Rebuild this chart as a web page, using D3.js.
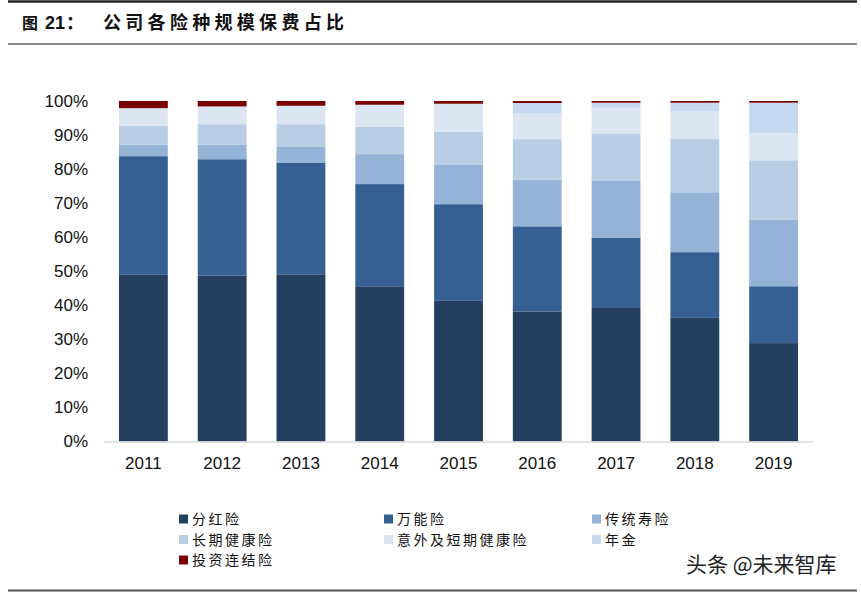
<!DOCTYPE html>
<html>
<head>
<meta charset="utf-8">
<script src="https://cdn.jsdelivr.net/npm/d3@7"></script>
<style>
  body { margin: 0; background: #fff; }
  svg { display: block; }
</style>
</head>
<body>
<svg width="861" height="592"></svg>
<script>
// years on the x axis
var years = ["2011", "2012", "2013", "2014", "2015", "2016", "2017", "2018", "2019"];

// share of premium per product line, in %
var dividend   = [49.1, 48.7, 49.1, 45.6, 41.3, 38.2, 39.2, 36.3, 28.9];
var universal  = [34.7, 34.2, 32.7, 30.0, 28.4, 25.0, 20.7, 19.3, 16.7];
var tradLife   = [3.3, 4.2, 4.7, 8.8, 11.5, 13.7, 16.6, 17.6, 19.6];
var longHealth = [5.7, 6.1, 6.7, 8.0, 9.7, 11.9, 14.0, 15.8, 17.4];
var accident   = [5.1, 5.2, 5.4, 6.5, 8.3, 7.5, 7.5, 7.9, 7.9];
var annuity    = [0, 0, 0, 0, 0, 3.1, 1.5, 2.6, 9.0];
var investLink = [2.1, 1.6, 1.4, 1.1, 0.8, 0.6, 0.5, 0.5, 0.5];

var seriesNames = ["分红险", "万能险", "传统寿险", "长期健康险", "意外及短期健康险", "年金", "投资连结险"];
var seriesValues = [dividend, universal, tradLife, longHealth, accident, annuity, investLink];
var colors = ["#253f60", "#366092", "#95b3d7", "#b9cde5", "#dce6f2", "#c6d9f1", "#7a0000"];

var yTicks = [0, 10, 20, 30, 40, 50, 60, 70, 80, 90, 100];

var svg = d3.select("svg");
var font = "'Liberation Sans', Arial, sans-serif";
var cjk = "'Noto Sans CJK SC', sans-serif";

// header and footer rules
svg.append("line").attr("x1", 8).attr("x2", 857).attr("y1", 1.5).attr("y2", 1.5)
    .attr("stroke", "#222").attr("stroke-width", 2.5);
svg.append("line").attr("x1", 8).attr("x2", 857).attr("y1", 44).attr("y2", 44)
    .attr("stroke", "#666").attr("stroke-width", 1.5);
svg.append("line").attr("x1", 8).attr("x2", 857).attr("y1", 590.5).attr("y2", 590.5)
    .attr("stroke", "#555").attr("stroke-width", 2);

// title
var title = svg.append("g").attr("font-family", cjk).attr("font-weight", "bold")
    .attr("font-size", 18).attr("fill", "#111");
title.append("text").attr("x", 22).attr("y", 29).attr("font-size", 16).text("图");
title.append("text").attr("x", 45).attr("y", 29).attr("font-family", font).text("21");
title.append("text").attr("x", 66).attr("y", 29).text("：");
title.append("text").attr("x", 103).attr("y", 29).attr("letter-spacing", 4.3)
    .text("公司各险种规模保费占比");

// stack the data
var rows = years.map(function (y, i) {
    var r = { year: y };
    seriesNames.forEach(function (n, j) { r[n] = seriesValues[j][i]; });
    return r;
});
var stacked = d3.stack().keys(seriesNames)(rows);

var x = d3.scaleBand().domain(years).range([104, 813]).paddingInner(0.38).paddingOuter(0.19);
var y = d3.scaleLinear().domain([0, 100]).range([441.5, 101]);

var layers = svg.append("g").selectAll("g")
    .data(stacked)
    .join("g")
    .attr("fill", function (d, i) { return colors[i]; });

layers.selectAll("rect")
    .data(function (d) { return d; })
    .join("rect")
    .attr("x", function (d) { return x(d.data.year); })
    .attr("width", x.bandwidth())
    .attr("y", function (d) { return y(d[1]); })
    .attr("height", function (d) { return Math.max(0, y(d[0]) - y(d[1])); });

// y axis labels
svg.append("g").selectAll("text")
    .data(yTicks)
    .join("text")
    .attr("x", 88)
    .attr("y", function (d) { return y(d); })
    .attr("dy", "0.35em")
    .attr("text-anchor", "end")
    .attr("font-family", font)
    .attr("font-size", 17)
    .attr("fill", "#111")
    .text(function (d) { return d + "%"; });

// x axis line + labels
svg.append("line").attr("x1", 104).attr("x2", 813).attr("y1", y(0) + 0.5).attr("y2", y(0) + 0.5)
    .attr("stroke", "#d9d9d9").attr("stroke-width", 1.5);

svg.append("g").selectAll("text")
    .data(years)
    .join("text")
    .attr("x", function (d) { return x(d) + x.bandwidth() / 2; })
    .attr("y", 469)
    .attr("text-anchor", "middle")
    .attr("font-family", font)
    .attr("font-size", 17)
    .attr("fill", "#111")
    .text(function (d) { return d; });

// legend, three columns
var colX = [179, 384, 592];
var legend = svg.append("g").selectAll("g")
    .data(seriesNames)
    .join("g")
    .attr("transform", function (d, i) {
        return "translate(" + colX[i % 3] + "," + (519 + Math.floor(i / 3) * 20.5) + ")";
    });

legend.append("rect")
    .attr("y", -4.5)
    .attr("width", 9)
    .attr("height", 9)
    .attr("fill", function (d, i) { return colors[i]; });

legend.append("text")
    .attr("x", 13)
    .attr("dy", "0.36em")
    .attr("font-family", cjk)
    .attr("font-size", 14)
    .attr("letter-spacing", 2.5)
    .attr("fill", "#111")
    .text(function (d) { return d; });

// watermark
svg.append("text").attr("x", 686).attr("y", 572)
    .attr("font-family", cjk).attr("font-size", 21).attr("fill", "#222")
    .text("头条 @未来智库");
</script>
</body>
</html>
